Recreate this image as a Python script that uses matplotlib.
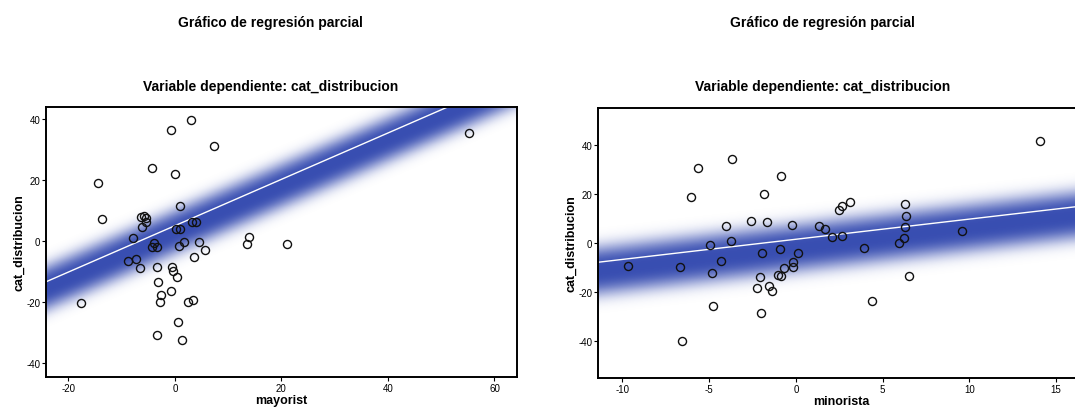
import numpy as np
import matplotlib
matplotlib.use("Agg")
import matplotlib.pyplot as plt

plt.rcParams['font.family'] = ['Liberation Sans', 'DejaVu Sans']
plt.rcParams['axes.unicode_minus'] = False

# partial residuals, left panel (mayorist)
may_x = [3.1, -0.75, 7.3, -4.3, 0.1, -14.5, 0.9, -13.6, -6.4, -5.8, -5.4, -5.5, -6.1,
         3.2, 4.0, 0.25, 1.0, -7.8, -4.0, -4.3, -3.3, 0.75, 1.8, 4.6, 5.7, 3.5,
         13.9, 13.6, 21.0, 55.3, -8.8, -7.3, -6.6, -3.4, -0.5, -0.44, 0.44, -3.1,
         -0.7, -2.6, -2.8, 2.4, 3.4, -17.6, 0.56, -3.4, 1.25]
may_y = [39.7, 36.4, 31.1, 23.9, 22.2, 19.2, 11.7, 7.3, 7.9, 8.4, 7.5, 6.3, 4.6,
         6.4, 6.4, 4.0, 4.0, 1.0, -0.5, -2.0, -1.9, -1.4, -0.1, -0.2, -2.8, -5.1,
         1.5, -0.9, -0.9, 35.4, -6.6, -5.8, -8.7, -8.6, -8.5, -9.9, -11.8, -13.4,
         -16.2, -17.6, -19.9, -19.9, -19.3, -20.3, -26.4, -30.8, -32.5]

# partial residuals, right panel (minorista)
min_x = [14.08, -3.66, -5.66, -0.88, -6.05, -1.83, 3.11, 2.64, 2.51, 6.3, 6.34,
         -2.57, -1.67, -4.0, -0.23, 1.34, 1.67, 6.28, 6.26, 9.59, 2.1, 2.68, 5.97,
         -3.71, -4.96, 3.91, -0.91, -1.94, 0.12, -4.34, -0.14, -0.18, -9.65, -6.65,
         -0.7, -4.86, -1.01, -0.88, -2.06, 6.52, -1.54, -1.4, -2.26, 4.38, -4.75,
         -2.02, -6.57]
min_y = [41.6, 34.4, 30.4, 27.1, 18.8, 20.0, 16.6, 14.9, 13.5, 15.8, 10.9,
         8.7, 8.3, 6.8, 7.2, 7.0, 5.7, 6.3, 2.0, 4.9, 2.3, 2.6, 0.0,
         0.8, -1.0, -2.0, -2.6, -4.2, -4.2, -7.4, -7.9, -9.8, -9.5, -9.8,
         -10.5, -12.4, -13.1, -13.6, -14.2, -13.6, -17.9, -19.9, -18.4, -24.0, -26.0,
         -28.8, -40.2]

# fitted lines (intercept, slope)
may_fit = (5.1, 0.76)
min_fit = (1.4, 0.824)

panels = [
    dict(x=may_x, y=may_y, fit=may_fit, xlabel="mayorist", xlim=(-24.2, 64.2),
         ylim=(-44.5, 44.0), xticks=[-20, 0, 20, 40, 60], yticks=[-40, -20, 0, 20, 40],
         pos=[0.0428, 0.087, 0.438, 0.652], width=7.5, off=2.0, tx=0.252),
    dict(x=min_x, y=min_y, fit=min_fit, xlabel="minorista", xlim=(-11.4, 16.6),
         ylim=(-55.3, 55.0), xticks=[-10, -5, 0, 5, 10, 15], yticks=[-40, -20, 0, 20, 40],
         pos=[0.5563, 0.0845, 0.452, 0.652], width=10.0, off=3.5, tx=0.765),
]

fig = plt.figure(figsize=(10.75, 4.14), dpi=100)
band_rgb = np.array([0.18, 0.27, 0.68])

for p in panels:
    ax = fig.add_axes(p['pos'])
    b0, b1 = p['fit']
    x0, x1 = p['xlim']
    y0, y1 = p['ylim']

    # shaded band around the fit line
    gx = np.linspace(x0, x1, 400)
    gy = np.linspace(y0, y1, 300)
    X, Y = np.meshgrid(gx, gy)
    d = Y - (b0 + b1 * X - p['off'])
    a = np.exp(-np.abs(d / p['width']) ** 3) * 0.95
    img = np.zeros(X.shape + (4,))
    img[..., :3] = band_rgb
    img[..., 3] = a
    ax.imshow(img, extent=[x0, x1, y0, y1], origin='lower', aspect='auto',
              interpolation='bilinear', zorder=1)

    ax.plot(gx, b0 + b1 * gx, color='white', lw=1.0, zorder=2)
    ax.plot(p['x'], p['y'], 'o', mfc='none', mec='#111111', mew=1.0, ms=5.8, zorder=3)

    ax.set_xlim(x0, x1)
    ax.set_ylim(y0, y1)
    ax.set_xticks(p['xticks'])
    ax.set_yticks(p['yticks'])
    ax.tick_params(labelsize=7, length=3, width=0.8, pad=1)
    for s in ax.spines.values():
        s.set_linewidth(1.4)
    ax.set_xlabel(p['xlabel'], fontsize=9, fontweight='bold', labelpad=1)
    ax.set_ylabel("cat_distribucion", fontsize=9, fontweight='bold', labelpad=1)

    fig.text(p['tx'], 1 - 23 / 414, "Gráfico de regresión parcial", ha='center', va='center',
             fontsize=10, fontweight='bold')
    fig.text(p['tx'], 1 - 87 / 414, "Variable dependiente: cat_distribucion", ha='center',
             va='center', fontsize=10, fontweight='bold')

fig.savefig("out.png", dpi=100)
